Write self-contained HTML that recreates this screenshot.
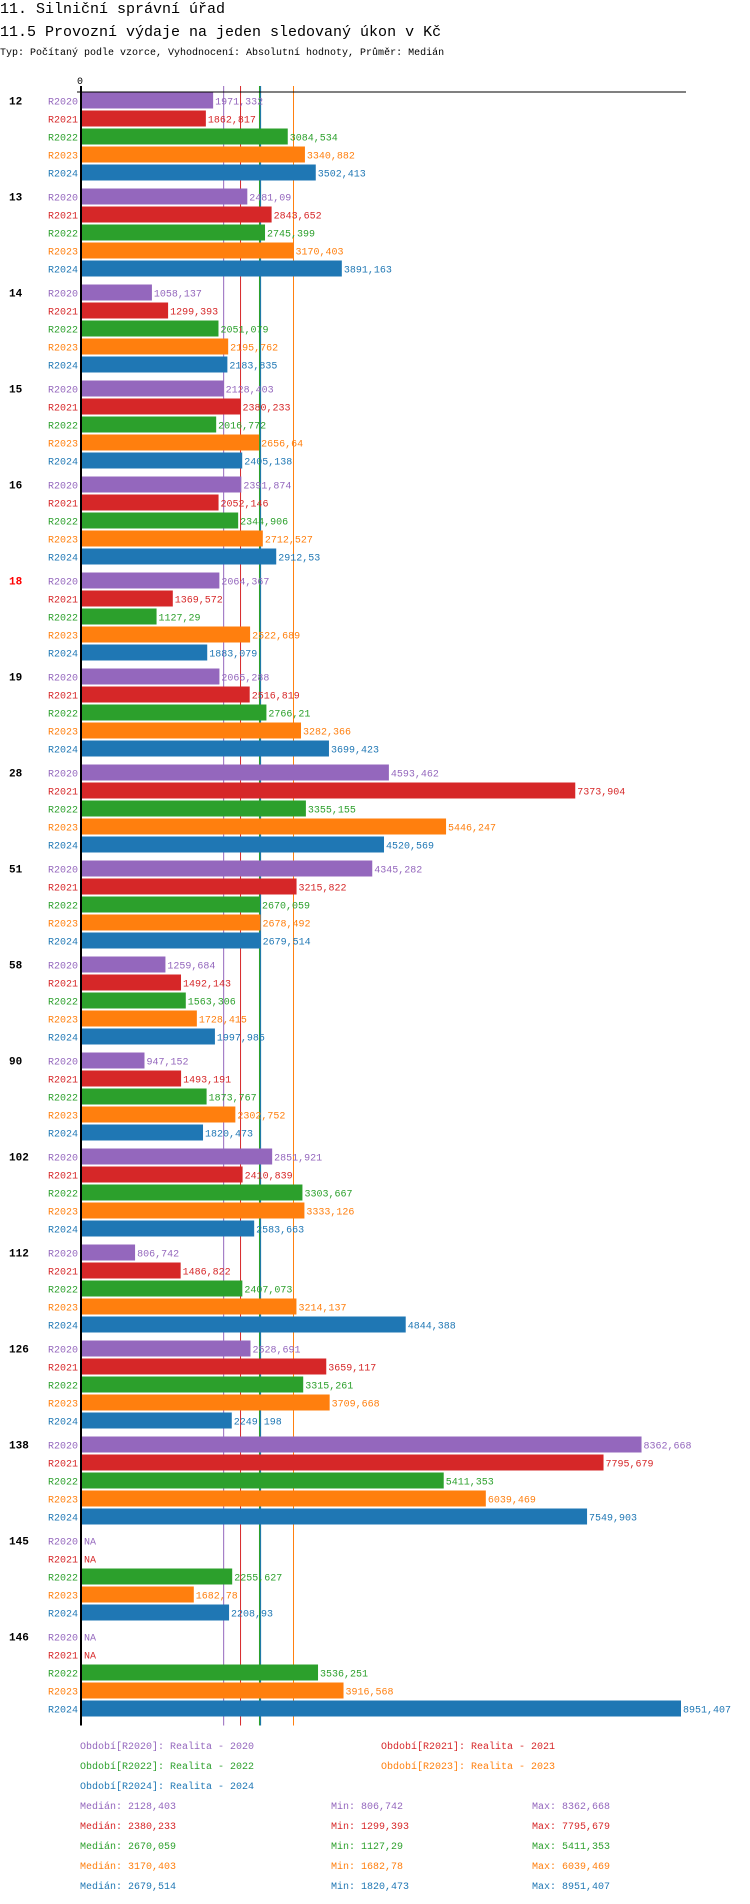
<!DOCTYPE html>
<html><head><meta charset="utf-8"><style>
body{margin:0;background:#fff;width:750px;height:1904px;overflow:hidden}
svg{display:block}
text{font-family:"Liberation Mono","DejaVu Sans Mono",monospace}
</style></head><body>
<svg id="chart" width="750" height="1904" xmlns="http://www.w3.org/2000/svg">
<text x="0" y="13" font-size="15">11. Silniční správní úřad</text>
<text x="0" y="36" font-size="15">11.5 Provozní výdaje na jeden sledovaný úkon v Kč</text>
<text x="0" y="55" font-size="10">Typ: Počítaný podle vzorce, Vyhodnocení: Absolutní hodnoty, Průměr: Medián</text>
</svg>
<script>
const categories=["12","13","14","15","16","18","19","28","51","58","90","102","112","126","138","145","146"];
const seriesNames=["R2020","R2021","R2022","R2023","R2024"];
const r2020=[1971.332,2481.09,1058.137,2128.403,2391.874,2064.367,2065.288,4593.462,4345.282,1259.684,947.152,2851.921,806.742,2528.691,8362.668,null,null];
const r2021=[1862.817,2843.652,1299.393,2380.233,2052.146,1369.572,2516.819,7373.904,3215.822,1492.143,1493.191,2410.839,1486.822,3659.117,7795.679,null,null];
const r2022=[3084.534,2745.399,2051.079,2016.772,2344.906,1127.29,2766.21,3355.155,2670.059,1563.306,1873.767,3303.667,2407.073,3315.261,5411.353,2255.627,3536.251];
const r2023=[3340.882,3170.403,2195.762,2656.64,2712.527,2522.689,3282.366,5446.247,2678.492,1728.415,2302.752,3333.126,3214.137,3709.668,6039.469,1682.78,3916.568];
const r2024=[3502.413,3891.163,2183.835,2405.138,2912.53,1883.079,3699.423,4520.569,2679.514,1997.985,1820.473,2583.663,4844.388,2249.198,7549.903,2208.93,8951.407];
const medians=[2128.403,2380.233,2670.059,3170.403,2679.514];
const mins=[806.742,1299.393,1127.29,1682.78,1820.473];
const maxs=[8362.668,7795.679,5411.353,6039.469,8951.407];
const legendLabels=["Realita - 2020","Realita - 2021","Realita - 2022","Realita - 2023","Realita - 2024"];
const highlightCat="18";
const colors=["#9467bd","#d62728","#2ca02c","#ff7f0e","#1f77b4"];
const series=[r2020,r2021,r2022,r2023,r2024];
const NS="http://www.w3.org/2000/svg";
const svg=document.getElementById('chart');
const X0=81, K=(681-81)/8951.407;
const x=v=>X0+v*K;
const top0=92.5, gp=96, bp=18, bh=16;
const y=(g,s)=>top0+g*gp+s*bp;
const fmt=v=>String(v).replace('.',',');
function el(t,a,txt){const e=document.createElementNS(NS,t);for(const k in a)e.setAttribute(k,a[k]);if(txt!==undefined)e.textContent=txt;svg.appendChild(e);return e;}
const yEnd=y(categories.length-1,4)+bh+9;
medians.forEach((m,i)=>{const l=el('line',{x1:x(m),x2:x(m),y1:86,y2:yEnd,stroke:colors[i],'stroke-width':i===2?2:1});

});
let a=el('line',{x1:77,x2:686,y1:92,y2:92,stroke:'#000','stroke-width':1});


let t0=el('text',{x:80,y:84,'font-size':10,'text-anchor':'middle'},'0');


categories.forEach((c,g)=>{
 const ct=el('text',{x:9,y:y(g,0)+12,'font-size':11,'font-weight':'bold',fill:c===highlightCat?'#ff0000':'#000'},c);
 
 
 series.forEach((s,i)=>{
  const yy=y(g,i);
  const lt=el('text',{x:78,y:yy+12,'font-size':10,'text-anchor':'end',fill:colors[i]},seriesNames[i]);
  
  
  const v=s[g];
  if(v===null){const na=el('text',{x:84,y:yy+12,'font-size':10,fill:colors[i]},'NA');
   
   return;}
  const r=el('rect',{x:X0,y:yy,width:x(v)-X0,height:bh,fill:colors[i]});
  
  
  const vt=el('text',{x:x(v)+2,y:yy+12,'font-size':10,fill:colors[i]},fmt(v));
  
  
 });
});
let ya=el('line',{x1:81,x2:81,y1:86,y2:yEnd,stroke:'#000','stroke-width':2});


const legPos=[[80,1749],[381,1749],[80,1769],[381,1769],[80,1789]];
legendLabels.forEach((l,i)=>{const t=el('text',{x:legPos[i][0],y:legPos[i][1],'font-size':10,fill:colors[i]},'Období['+seriesNames[i]+']: '+l);
 
 });
series.forEach((s,i)=>{const yy=1809+i*20;
 const a1=el('text',{x:80,y:yy,'font-size':10,fill:colors[i]},'Medián: '+fmt(medians[i]));
 
 
 const a2=el('text',{x:331,y:yy,'font-size':10,fill:colors[i]},'Min: '+fmt(mins[i]));
 
 
 const a3=el('text',{x:532,y:yy,'font-size':10,fill:colors[i]},'Max: '+fmt(maxs[i]));
 
 
});
</script>
</body></html>
